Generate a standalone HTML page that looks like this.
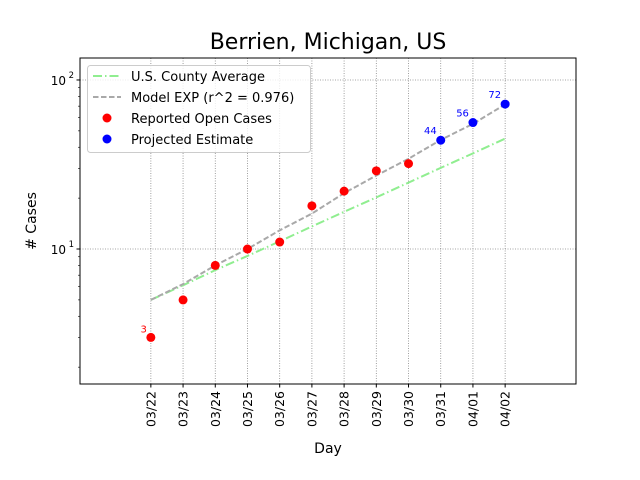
<!DOCTYPE html>
<html><head><meta charset="utf-8"><style>
body{margin:0;background:#fff;}
svg{display:block;font-family:"DejaVu Sans","Liberation Sans",sans-serif;}
</style></head><body>
<svg id="chart" width="640" height="480"></svg>
<script>
const categories=["03/22","03/23","03/24","03/25","03/26","03/27","03/28","03/29","03/30","03/31","04/01","04/02"];
const reported=[3,5,8,10,11,18,22,29,32];
const projected=[44,56,72];
const projectedStart=9;
const modelExp=[5,6.2,8.0,10.0,12.9,16.2,21.4,27.2,34.2,44.2,55.0,71.7];
const countyAvg=[5,6.1,7.5,9.1,11.1,13.6,16.6,20.2,24.7,30.2,36.8,45];
const yTicks=[10,100];
const yTickLabels=["10","10"];

const NS="http://www.w3.org/2000/svg";
const svg=document.getElementById('chart');
const L=80,R=576,T=58,B=384;
const xMin=-2.2,xMax=13.2;
const yMinL=Math.log10(1.59),yMaxL=2.13;
const xs=i=>L+(i-xMin)/(xMax-xMin)*(R-L);
const ys=v=>B-(Math.log10(v)-yMinL)/(yMaxL-yMinL)*(B-T);
function el(tag,attrs,parent){const e=document.createElementNS(NS,tag);for(const k in attrs)e.setAttribute(k,attrs[k]);(parent||svg).appendChild(e);return e;}

categories.forEach((c,i)=>{
  const g=el('line',{x1:xs(i),x2:xs(i),y1:T,y2:B,stroke:'#888','stroke-width':0.8,'stroke-dasharray':'1,1.5'});
  
  
});
yTicks.forEach(v=>{
  const g=el('line',{x1:L,x2:R,y1:ys(v),y2:ys(v),stroke:'#888','stroke-width':0.8,'stroke-dasharray':'1,1.5'});
  
  
});

function poly(arr,attrs,name){
  const p=el('polyline',Object.assign({points:arr.map((v,i)=>xs(i)+','+ys(v)).join(' '),fill:'none'},attrs));
  
  
}
poly(countyAvg,{stroke:'#90ee90','stroke-width':2,'stroke-dasharray':'9,3,1.5,3'},'county-average-line');
poly(modelExp,{stroke:'#a9a9a9','stroke-width':2,'stroke-dasharray':'5.5,2.5'},'model-exp-line');

reported.forEach((v,i)=>{
  const c=el('circle',{cx:xs(i),cy:ys(v),r:4.5,fill:'red'});
  
  
});
const t3=el('text',{x:xs(0)-4,y:ys(reported[0])-5,'font-size':10,fill:'red','text-anchor':'end'});
t3.textContent=reported[0];


projected.forEach((v,j)=>{
  const i=projectedStart+j;
  const c=el('circle',{cx:xs(i),cy:ys(v),r:4.5,fill:'blue'});
  
  
  const t=el('text',{x:xs(i)-4,y:ys(v)-6,'font-size':10,fill:'blue','text-anchor':'end'});
  t.textContent=v;
  
  
});

const fr=el('rect',{x:L,y:T,width:R-L,height:B-T,fill:'none',stroke:'#000','stroke-width':1});



categories.forEach((c,i)=>{
  el('line',{x1:xs(i),x2:xs(i),y1:B,y2:B+3.5,stroke:'#000'});
  const t=el('text',{transform:`translate(${xs(i)+4.5},${B+7}) rotate(-90)`,'font-size':12.5,'text-anchor':'end'});
  t.textContent=c;
  
  
});
yTicks.forEach((v,k)=>{
  el('line',{x1:L-3.5,x2:L,y1:ys(v),y2:ys(v),stroke:'#000'});
  const t=el('text',{x:L-14,y:ys(v)+5,'font-size':12,'text-anchor':'end'});
  t.textContent=yTickLabels[k];
  
  
  const s=el('text',{x:L-6,y:ys(v)-2,'font-size':8.5,'text-anchor':'end'});
  s.textContent=String(Math.round(Math.log10(v)));
  
  
});
[1,10,100].forEach(d=>{for(let m=2;m<=9;m++){const v=d*m;const y=ys(v);if(y>=T&&y<=B)el('line',{x1:L-2,x2:L,y1:y,y2:y,stroke:'#000','stroke-width':0.6});}});

let t=el('text',{x:328,y:49,'font-size':22,'text-anchor':'middle'});t.textContent='Berrien, Michigan, US';

t=el('text',{x:328,y:453,'font-size':14,'text-anchor':'middle'});t.textContent='Day';

t=el('text',{transform:'translate(36,221) rotate(-90)','font-size':14,'text-anchor':'middle'});t.textContent='# Cases';


const lg=el('g',{});


el('rect',{x:87.5,y:65.5,width:223,height:87,rx:3,fill:'#fff','fill-opacity':0.8,stroke:'#ccc'},lg);
const entries=[['U.S. County Average','line','#90ee90','9,3,1.5,3'],['Model EXP (r^2 = 0.976)','line','#a9a9a9','5.5,2.5'],['Reported Open Cases','dot','red'],['Projected Estimate','dot','blue']];
entries.forEach((e,k)=>{
  const y=76+k*21;
  const g=el('g',{},lg);
  
  
  if(e[1]==='line')el('line',{x1:93,x2:121,y1:y,y2:y,stroke:e[2],'stroke-width':2,'stroke-dasharray':e[3]},g);
  else el('circle',{cx:107,cy:y,r:4.5,fill:e[2]},g);
  const tx=el('text',{x:131,y:y+5,'font-size':13},g);tx.textContent=e[0];
});
</script>
</body></html>
